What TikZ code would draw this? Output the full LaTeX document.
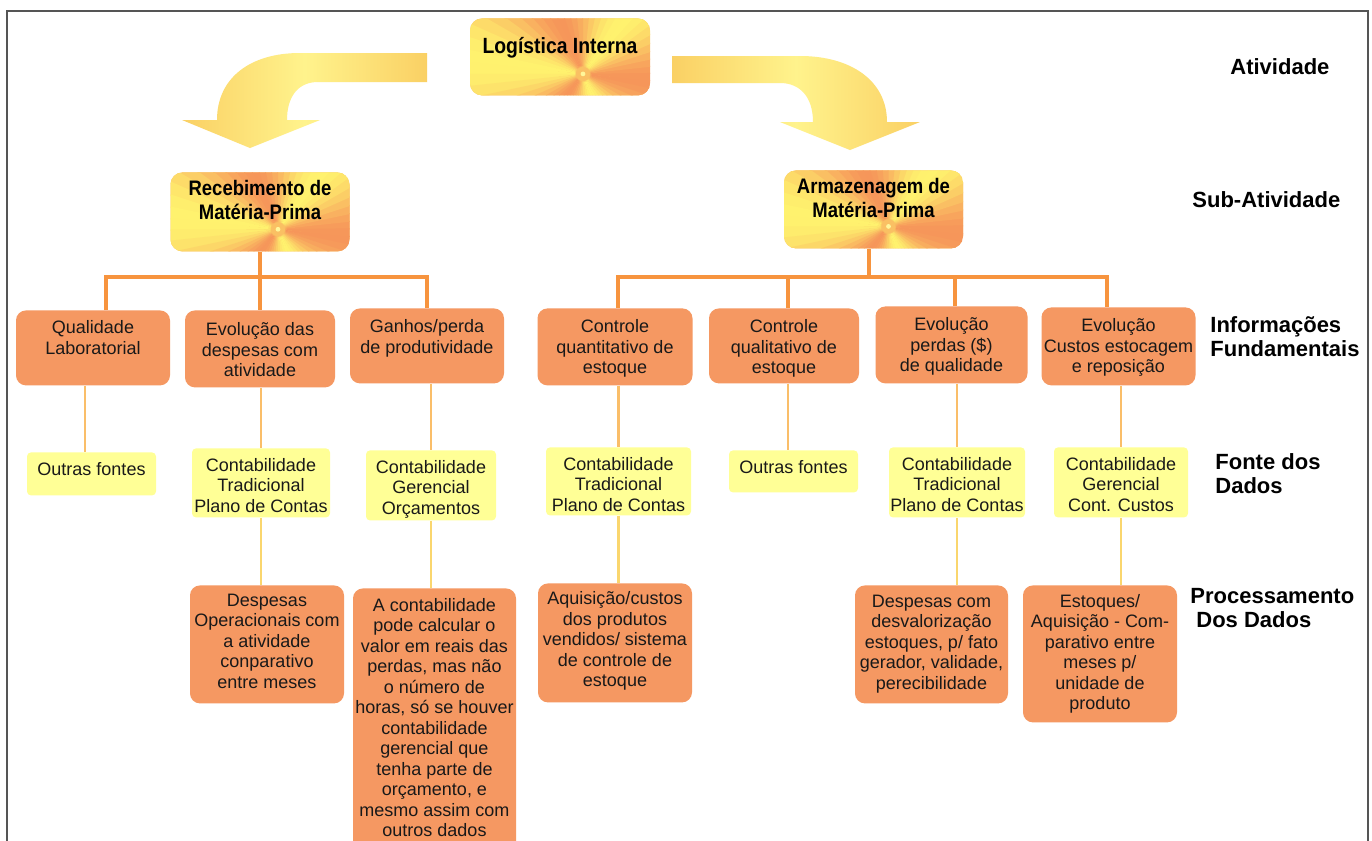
\documentclass[tikz,border=0pt]{standalone}
\usepackage{fontspec}
\setmainfont{Liberation Sans}
\newfontfamily\hdfont{Liberation Sans}[FakeStretch=0.88]
\usetikzlibrary{calc}
\definecolor{infoO}{RGB}{245,152,98}
\definecolor{srcY}{RGB}{255,255,150}
\definecolor{busO}{RGB}{247,148,62}
\definecolor{linkO}{RGB}{250,190,105}
\definecolor{linkY}{RGB}{250,214,110}
\definecolor{hdO}{RGB}{246,150,90}
\definecolor{hdY}{RGB}{255,242,110}
\definecolor{arL}{RGB}{250,208,100}
\definecolor{arM}{RGB}{255,243,140}
\definecolor{txt}{RGB}{25,25,25}
\definecolor{frameG}{RGB}{85,85,85}
\newcommand{\tb}[4]{\parbox[c][#2][t]{#1}{\centering\vspace*{#3}\strut #4\par}}
\newcommand{\conic}[2]{%
  \fill[hdO!55!hdY] (path picture bounding box.south west) rectangle (path picture bounding box.north east);
  \foreach \a in {0,6,...,354}{%
    \pgfmathsetmacro{\p}{50+50*cos(3*\a+30)}%
    \pgfmathsetmacro{\b}{\a+6.8}%
    \fill[hdO!\p!hdY] ([shift={(#1,#2)}]path picture bounding box.center) -- +(\a:120pt) -- +(\b:120pt) -- cycle;
  }
  \fill[hdY!70!white] ([shift={(#1,#2)}]path picture bounding box.center) circle (1.2pt);}
\tikzset{
  body/.style={inner sep=0pt, anchor=north, text=txt, font=\fontsize{9pt}{10.25pt}\selectfont},
  info/.style={body, fill=infoO, rounded corners=5pt},
  src/.style={body, fill=srcY, rounded corners=2pt},
  proc/.style={body, fill=infoO, rounded corners=5pt},
  head/.style 2 args={inner sep=0pt, anchor=north, text=black, rounded corners=6pt,
     path picture={\conic{#1}{#2}}},
  bus/.style={draw=busO, line width=1.6pt},
  link/.style={draw=linkO, line width=1.1pt},
  linky/.style={draw=linkY, line width=1.1pt},
  lbl/.style={anchor=west, align=left, inner sep=0pt, text=black,
     font=\bfseries\fontsize{11pt}{12pt}\selectfont},
  bigarrow/.style={left color=arL, right color=arL, middle color=arM}
}
\begin{document}
\begin{tikzpicture}[x=0.5pt,y=-0.5pt]
\useasboundingbox (0,0) rectangle (1372,841);
\fill[white] (0,0) rectangle (1372,841);
\clip (0,0) rectangle (1372,841);
\draw[frameG, line width=1pt] (7,860) -- (7,11) -- (1368,11) -- (1368,860);

% curved arrows
\shade[bigarrow] (427,53) -- (300,53) .. controls (250,53) and (217,78) .. (217,120)
  -- (182,120) -- (250,148) -- (320,120) -- (287,120)
  .. controls (287,98) and (297,82) .. (318,82) -- (427,82) -- cycle;
\shade[bigarrow] (672,56) -- (800,56) .. controls (850,56) and (887,80) .. (887,122)
  -- (920,122) -- (850,150) -- (780,122) -- (813,122)
  .. controls (813,97) and (800,83) .. (780,83) -- (672,83) -- cycle;

% heading nodes
\node[head={11.5pt}{-8.5pt}] (top) at (560,18)
  {\parbox[c][38.5pt][t]{90pt}{\centering\hdfont\bfseries\fontsize{11pt}{12pt}\selectfont\vspace*{9pt}\strut Logística Interna\par}};
\node[head={9pt}{-8.7pt}] (subL) at (260,172)
  {\parbox[c][39.5pt][t]{89.5pt}{\centering\hdfont\bfseries\fontsize{10.5pt}{11pt}\selectfont\vspace*{4pt}\strut Recebimento de\\Matéria-Prima\par}};
\node[head={7.5pt}{-8.5pt}] (subR) at (873.5,170)
  {\parbox[c][39pt][t]{89.5pt}{\centering\hdfont\bfseries\fontsize{10.5pt}{11pt}\selectfont\vspace*{4pt}\strut Armazenagem de\\Matéria-Prima\par}};

% informacoes fundamentais
\node[info] (q1) at (93,310) {\tb{77pt}{37.5pt}{4.5pt}{Qualidade\\Laboratorial}};
\node[info] (q2) at (260,310) {\tb{75pt}{38.5pt}{5.5pt}{Evolução das\\despesas com\\atividade}};
\node[info] (q3) at (427,308) {\tb{77pt}{37.5pt}{5pt}{Ganhos/perda\\de produtividade}};
\node[info] (r1) at (615,308) {\tb{77.5pt}{38.5pt}{5pt}{Controle\\quantitativo de\\estoque}};
\node[info] (r2) at (784,308) {\tb{75pt}{37.5pt}{5pt}{Controle\\qualitativo de\\estoque}};
\node[info] (r3) at (951.5,306) {\tb{76pt}{38.5pt}{5pt}{Evolução\\perdas (\$)\\de qualidade}};
\node[info] (r4) at (1118.5,307) {\tb{77pt}{39pt}{5pt}{Evolução\\Custos estocagem\\e reposição}};

% fonte dos dados
\node[src] (s1) at (91.5,452) {\tb{64.5pt}{21.5pt}{4.25pt}{Outras fontes}};
\node[src] (s2) at (261,448) {\tb{69pt}{34.5pt}{4.25pt}{Contabilidade\\Tradicional\\Plano de Contas}};
\node[src] (s3) at (431,450) {\tb{65pt}{35pt}{4.25pt}{Contabilidade\\Gerencial\\Orçamentos}};
\node[src] (s4) at (618.5,447) {\tb{72.5pt}{34pt}{4.25pt}{Contabilidade\\Tradicional\\Plano de Contas}};
\node[src] (s5) at (793.5,450) {\tb{64.5pt}{21pt}{4.25pt}{Outras fontes}};
\node[src] (s6) at (957,447) {\tb{68pt}{35pt}{4.25pt}{Contabilidade\\Tradicional\\Plano de Contas}};
\node[src] (s7) at (1121,447) {\tb{67pt}{35pt}{4.25pt}{Contabilidade\\Gerencial\\Cont. Custos}};

% processamento
\node[proc] (p1) at (267,585) {\tb{77pt}{59pt}{3.25pt}{Despesas\\Operacionais com\\a atividade\\conparativo\\entre meses}};
\node[proc] (p2) at (434.5,588) {\tb{81.5pt}{132pt}{4.25pt}{A contabilidade\\pode calcular o\\valor em reais das\\perdas, mas não\\o número de\\horas, só se houver\\contabilidade\\gerencial que\\tenha parte de\\orçamento, e\\mesmo assim com\\outros dados}};
\node[proc] (p3) at (615,583) {\tb{77pt}{59.5pt}{3.5pt}{Aquisição/custos\\dos produtos\\vendidos/ sistema\\de controle de\\estoque}};
\node[proc] (p4) at (931.5,585) {\tb{76.5pt}{59pt}{3.75pt}{Despesas com\\desvalorização\\estoques, p/ fato\\gerador, validade,\\perecibilidade}};
\node[proc] (p5) at (1100,585) {\tb{77pt}{68.5pt}{3.75pt}{Estoques/\\Aquisição - Com-\\parativo entre\\meses p/\\unidade de\\produto}};

% level labels
\node[lbl] (l1) at (1230,67) {Atividade};
\node[lbl] (l2) at (1192,200) {Sub-Atividade};
\node[lbl] (l3) at (1210,337) {Informações\\Fundamentais};
\node[lbl] (l4) at (1215,474) {Fonte dos\\Dados};
\node[lbl] (l5) at (1190,608) {Processamento\\\hspace{3pt}Dos Dados};

% bus connectors
\coordinate (busL) at (260,277);
\coordinate (busR) at (869,277);
\draw[bus] (subL.south) -- (q2.north);
\draw[bus] ([xshift=6.5pt]q1.north) |- (busL) -| (q3.north);
\draw[bus] ([xshift=-2.25pt]subR.south) -- (busR);
\draw[bus] ([xshift=1.5pt]r1.north) |- (busR) -| ([xshift=-5.75pt]r4.north);
\coordinate (r2t) at ([xshift=2pt]r2.north);
\coordinate (r3t) at ([xshift=1.75pt]r3.north);
\draw[bus] (r2t) -- (r2t |- busR);
\draw[bus] (r3t) -- (r3t |- busR);

% info -> source links
\coordinate (s1t) at ([xshift=-3.25pt]s1.north);
\coordinate (s5t) at ([xshift=-2.75pt]s5.north);
\draw[link] (s1t |- q1.south) -- (s1t);
\draw[link] (s2.north |- q2.south) -- (s2.north);
\draw[link] (s3.north |- q3.south) -- (s3.north);
\draw[link] (s4.north |- r1.south) -- (s4.north);
\draw[link] (s5t |- r2.south) -- (s5t);
\draw[link] (s6.north |- r3.south) -- (s6.north);
\draw[link] (s7.north |- r4.south) -- (s7.north);

% source -> processing links
\draw[linky] (s2.south) -- (s2.south |- p1.north);
\draw[linky] (s3.south) -- (s3.south |- p2.north);
\draw[linky] (s4.south) -- (s4.south |- p3.north);
\draw[linky] (s6.south) -- (s6.south |- p4.north);
\draw[linky] (s7.south) -- (s7.south |- p5.north);
\end{tikzpicture}
\end{document}
